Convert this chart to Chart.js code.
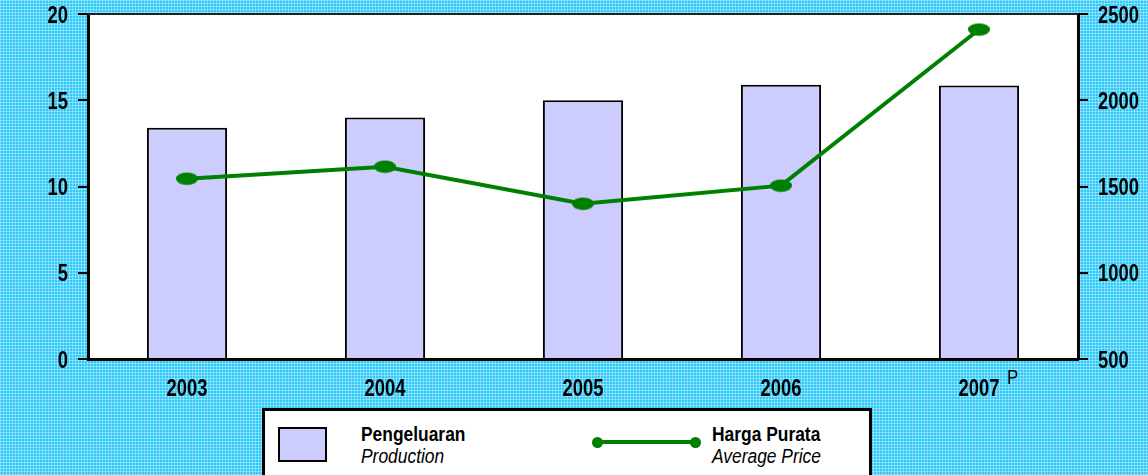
<!DOCTYPE html>
<html>
<head>
<meta charset="utf-8">
<script src="https://cdn.jsdelivr.net/npm/chart.js@4"></script>
<style>
html,body{margin:0;padding:0;}
body{
  width:1148px;height:475px;overflow:hidden;position:relative;
  background-color:#2fcaf8;
  background-image:
    repeating-linear-gradient(90deg, rgba(255,255,255,0.35) 0 1px, transparent 1px 3px),
    repeating-linear-gradient(0deg, rgba(255,255,255,0.35) 0 1px, transparent 1px 3px);
  font-family:"Liberation Sans",Arial,sans-serif;
}
#wrap{position:absolute;left:0;top:0;width:1148px;height:475px;}
#legend{position:absolute;left:262px;top:408px;width:604px;height:80px;background:#fff;border:3px solid #000;box-sizing:content-box;}
.sw{position:absolute;left:13px;top:16px;width:45px;height:31px;background:#ccccff;border:2px solid #000;}
.t{position:absolute;font-size:20px;line-height:22px;color:#000;transform:scaleX(0.87);transform-origin:0 0;white-space:nowrap;}
.t b{font-weight:bold;}
.t i{font-style:italic;}
.ln{position:absolute;left:330px;top:29px;width:100px;height:4px;background:#008000;}
.dot{position:absolute;top:25.5px;width:11px;height:11px;border-radius:50%;background:#008000;}
</style>
</head>
<body>
<div id="wrap"><canvas id="c" width="1148" height="475"></canvas></div>
<div id="legend">
  <div class="sw"></div>
  <div class="t" style="left:96px;top:12px;"><b>Pengeluaran</b><br><i>Production</i></div>
  <div class="ln"></div>
  <div class="dot" style="left:326.5px;"></div>
  <div class="dot" style="left:424.5px;"></div>
  <div class="t" style="left:447px;top:12px;"><b>Harga Purata</b><br><i>Average Price</i></div>
</div>
<script>
const categories = ["2003", "2004", "2005", "2006", "2007"];
const production = [13.4, 14.0, 15.0, 15.9, 15.85];
const averagePrice = [1545, 1615, 1400, 1505, 2410];
const leftTicks = [0, 5, 10, 15, 20];
const rightTicks = [500, 1000, 1500, 2000, 2500];
const superscriptNote = "P";

const FONT = '"Liberation Sans", Arial, sans-serif';
const SX = 0.8; // horizontal condensing of axis text

// ellipse marker
const mk = document.createElement('canvas');
mk.width = 24; mk.height = 14;
{
  const g = mk.getContext('2d');
  g.fillStyle = '#008000';
  g.beginPath();
  g.ellipse(12, 7, 11, 6.2, 0, 0, Math.PI * 2);
  g.fill();
}

function drawText(ctx, txt, x, y, align, font, sx) {
  ctx.save();
  ctx.font = font;
  ctx.fillStyle = '#000';
  ctx.textAlign = align;
  ctx.textBaseline = 'alphabetic';
  ctx.translate(x, y);
  ctx.scale(sx, 1);
  ctx.fillText(txt, 0, 0);
  ctx.restore();
}

const plotDeco = {
  id: 'plotDeco',
  beforeDraw(chart) {
    const {ctx, chartArea: a} = chart;
    ctx.save();
    ctx.fillStyle = '#fff';
    ctx.fillRect(a.left, a.top, a.right - a.left, a.bottom - a.top);
    ctx.restore();
  },
  afterDraw(chart) {
    const {ctx, chartArea: a} = chart;
    ctx.save();
    ctx.strokeStyle = '#222';
    ctx.lineWidth = 2;
    ctx.beginPath();
    ctx.moveTo(a.left, a.top);
    ctx.lineTo(a.right, a.top);
    ctx.stroke();
    ctx.restore();

    const bold = 'bold 23px ' + FONT;
    const ys = chart.scales.y, y1 = chart.scales.y1, xs = chart.scales.x;
    ys.ticks.forEach(t => drawText(ctx, String(t.value), a.left - 20, ys.getPixelForValue(t.value) + 8.5, 'right', bold, SX));
    y1.ticks.forEach(t => drawText(ctx, String(t.value), a.right + 20, y1.getPixelForValue(t.value) + 8.5, 'left', bold, SX));
    categories.forEach((c, i) => drawText(ctx, c, xs.getPixelForValue(i), a.bottom + 37, 'center', bold, SX));
    const px = xs.getPixelForValue(categories.length - 1);
    drawText(ctx, superscriptNote, px + 28, a.bottom + 25, 'left', '21px ' + FONT, SX);
  }
};

new Chart(document.getElementById('c'), {
  data: {
    labels: categories,
    datasets: [
      {
        type: 'line',
        label: 'Harga Purata',
        data: averagePrice,
        yAxisID: 'y1',
        borderColor: '#008000',
        borderWidth: 4,
        pointStyle: mk,
        pointRadius: 7,
        pointHoverRadius: 7,
        tension: 0,
        order: 1
      },
      {
        type: 'bar',
        label: 'Pengeluaran',
        data: production,
        yAxisID: 'y',
        backgroundColor: '#ccccff',
        borderColor: '#000',
        borderWidth: 2,
        categoryPercentage: 1,
        barPercentage: 0.405,
        order: 2
      }
    ]
  },
  options: {
    responsive: false,
    animation: false,
    layout: {padding: {top: 14, left: 0, right: 0, bottom: 0}},
    plugins: {legend: {display: false}, tooltip: {enabled: false}},
    scales: {
      x: {
        afterFit(s) { s.height = 116; },
        grid: {display: true, drawOnChartArea: false, drawTicks: false},
        border: {display: true, color: '#000', width: 3},
        ticks: {display: false}
      },
      y: {
        position: 'left',
        min: 0, max: 20,
        afterFit(s) { s.width = 88; },
        afterBuildTicks(s) { s.ticks = leftTicks.map(v => ({value: v})); },
        grid: {drawOnChartArea: false, drawTicks: true, tickLength: 10, color: '#000', lineWidth: 2},
        border: {display: true, color: '#000', width: 3},
        ticks: {display: false}
      },
      y1: {
        position: 'right',
        min: 500, max: 2500,
        afterFit(s) { s.width = 70; },
        afterBuildTicks(s) { s.ticks = rightTicks.map(v => ({value: v})); },
        grid: {drawOnChartArea: false, drawTicks: true, tickLength: 10, color: '#000', lineWidth: 2},
        border: {display: true, color: '#000', width: 3},
        ticks: {display: false}
      }
    }
  },
  plugins: [plotDeco]
});
</script>
</body>
</html>
